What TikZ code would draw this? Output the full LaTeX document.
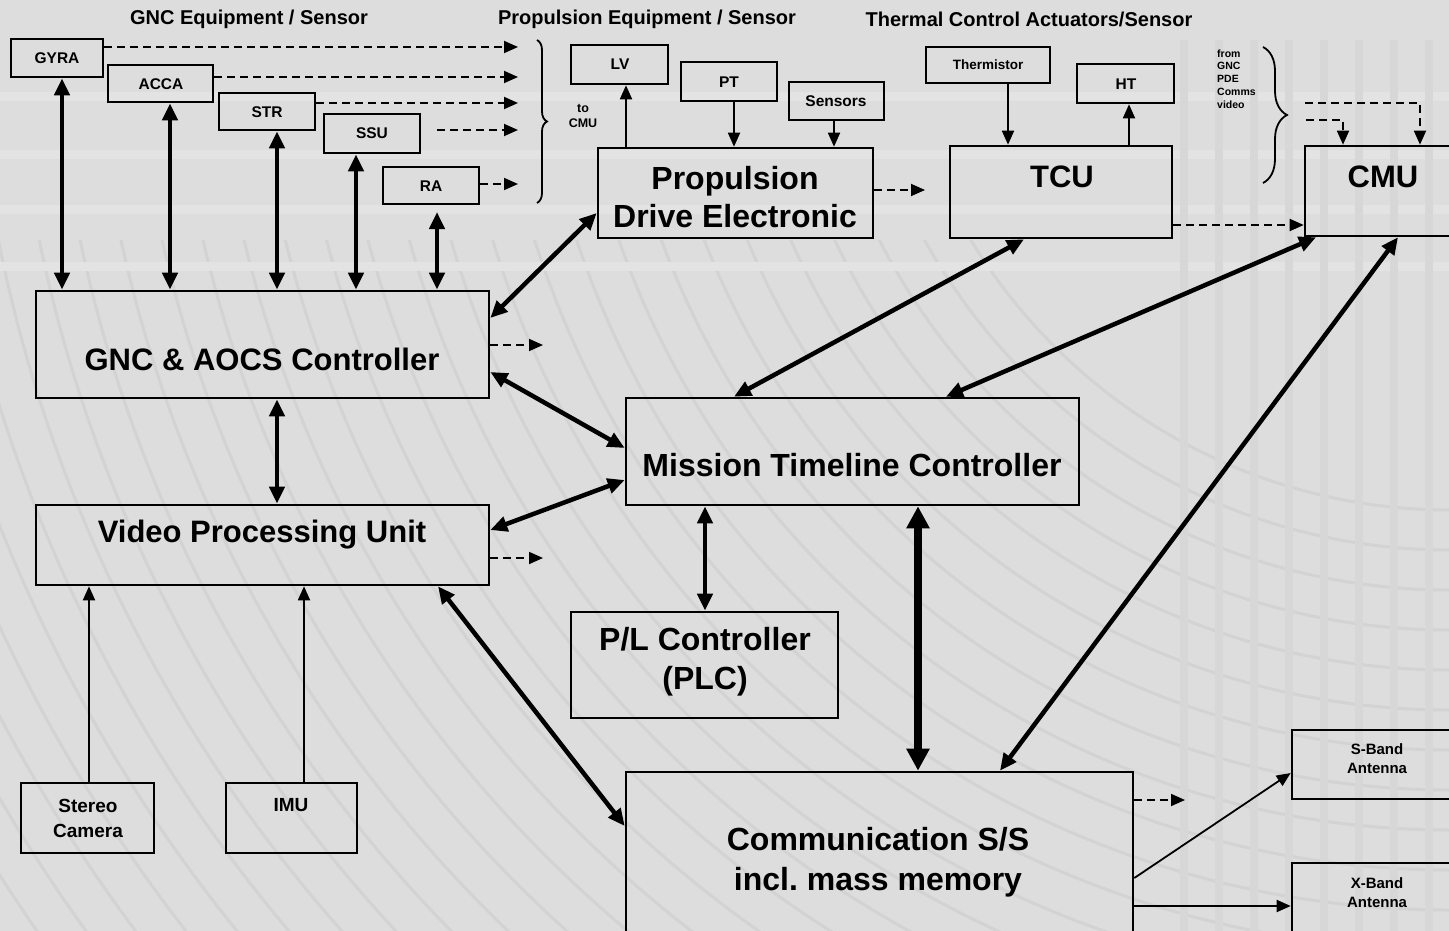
\documentclass[tikz,border=0pt]{standalone}
\usepackage{fontspec}
\setmainfont{Liberation Sans}
\usetikzlibrary{arrows.meta,decorations.pathreplacing,fit,calc}
\definecolor{bgc}{RGB}{221,221,221}
\definecolor{patc}{RGB}{211,211,211}
\definecolor{patv}{RGB}{215,215,215}
\definecolor{patl}{RGB}{227,227,227}
\begin{document}
\begin{tikzpicture}[x=1pt,y=-1pt,
  box/.style={draw=black, line width=2.6pt, inner sep=0pt},
  t/.style 2 args={inner sep=0pt, align=center, font=\bfseries\fontsize{#1}{#2}\selectfont},
  thk/.style={line width=4.5pt, >={Triangle[length=17pt,width=15pt]}, <->},
  vthk/.style={line width=8pt, >={Triangle[length=22pt,width=22pt]}, <->},
  thn/.style={line width=1.8pt, >={Triangle[length=14pt,width=12pt]}, ->},
  dsh/.style={line width=1.8pt, dash pattern=on 8pt off 5pt, >={Triangle[length=14pt,width=12pt]}, ->},
  brc/.style={line width=1.8pt, decorate, decoration={brace, amplitude=#1}},
  brc/.default=10pt]
\useasboundingbox (0,0) rectangle (1449,931);
\clip (0,0) rectangle (1449,931);
% background
\fill[bgc] (0,0) rectangle (1449,931);
\begin{scope}
  \clip (0,240) rectangle (1449,931);
  \foreach \r in {560,600,...,1720} \draw[patc, line width=3pt] (1450,-50) circle[radius=\r pt];
\end{scope}
\foreach \yy in {92,150,205,262} \fill[patl] (0,\yy) rectangle (1449,\yy+9);
\foreach \xx in {1180,1215,1250,1285,1320,1355,1390,1425} \fill[patv] (\xx,40) rectangle (\xx+8,931);

% titles
\node[t={20}{24}] (tgnc) at (249,19) {GNC Equipment / Sensor};
\node[t={20}{24}] (tprop) at (647,19) {Propulsion Equipment / Sensor};
\node[t={20}{24}] (ttherm) at (1029,19) {Thermal Control Actuators/Sensor};

% GNC equipment
\node[box, fit={(11,39) (103,77)}] (gyra) {};
\node[t={15.5}{18}] (gyrat) at (57,58) {GYRA};
\node[box, fit={(108,65) (213,102)}] (acca) {};
\node[t={15.5}{18}] (accat) at (161,84) {ACCA};
\node[box, fit={(219,93) (315,130)}] (str) {};
\node[t={15.5}{18}] (strt) at (267,112) {STR};
\node[box, fit={(324,114) (420,153)}] (ssu) {};
\node[t={15.5}{18}] (ssut) at (372,133) {SSU};
\node[box, fit={(383,167) (479,204)}] (ra) {};
\node[t={15.5}{18}] (rat) at (431,186) {RA};

\coordinate (e1) at (518,47);
\coordinate (e2) at (518,77);
\coordinate (e3) at (518,103);
\coordinate (s4) at (437,130);
\coordinate (e4) at (518,130);
\coordinate (e5) at (518,184);
\draw[dsh] (gyra.east |- e1) -- (e1);
\draw[dsh] (acca.east |- e2) -- (e2);
\draw[dsh] (str.east |- e3) -- (e3);
\draw[dsh] (s4) -- (e4);
\draw[dsh] (ra.east |- e5) -- (e5);
\coordinate (b1a) at (537,40);
\coordinate (b1b) at (537,203);
\draw[brc] (b1a) -- (b1b);
\node[t={12.5}{15.5}] (tocmu) at (583,116) {to\\CMU};

% GNC controller and VPU
\node[box, fit={(36,291) (489,398)}] (gnc) {};
\node[t={31}{36}] (gnct) at (262,359) {GNC \& AOCS Controller};
\node[box, fit={(36,505) (489,585)}] (vpu) {};
\node[t={31}{36}] (vput) at (262,535) {Video Processing Unit};

\coordinate (ra0) at (437,212);
\draw[thk] (62,0 |- gyra.south) -- (62,0 |- gnc.north);
\draw[thk] (170,0 |- acca.south) -- (170,0 |- gnc.north);
\draw[thk] (277,0 |- str.south) -- (277,0 |- gnc.north);
\draw[thk] (356,0 |- ssu.south) -- (356,0 |- gnc.north);
\draw[thk] (ra0) -- (ra0 |- gnc.north);
\draw[thk] (277,0 |- gnc.south) -- (277,0 |- vpu.north);

\coordinate (g1) at (543,345);
\coordinate (v1) at (543,558);
\draw[dsh] (gnc.east |- g1) -- (g1);
\draw[dsh] (vpu.east |- v1) -- (v1);

% camera / IMU
\node[box, fit={(21,783) (154,853)}] (stereo) {};
\node[t={19}{25}] (stereot) at (88,818) {Stereo\\Camera};
\node[box, fit={(226,783) (357,853)}] (imu) {};
\node[t={19}{25}] (imut) at (291,805) {IMU};
\draw[thn] (89,0 |- stereo.north) -- (89,0 |- vpu.south);
\draw[thn] (304,0 |- imu.north) -- (304,0 |- vpu.south);

% propulsion
\node[box, fit={(571,45) (668,84)}] (lv) {};
\node[t={15.5}{18}] (lvt) at (620,64) {LV};
\node[box, fit={(681,62) (777,101)}] (pt) {};
\node[t={15.5}{18}] (ptt) at (729,82) {PT};
\node[box, fit={(789,82) (884,120)}] (sens) {};
\node[t={15.5}{18}] (senst) at (836,101) {Sensors};
\node[box, fit={(598,148) (873,238)}] (pde) {};
\node[t={32}{38}] (pdet) at (735,197) {Propulsion\\Drive Electronic};
\draw[thn] (626,0 |- pde.north) -- (626,0 |- lv.south);
\draw[thn] (734,0 |- pt.south) -- (734,0 |- pde.north);
\draw[thn] (834,0 |- sens.south) -- (834,0 |- pde.north);
\coordinate (p1) at (925,190);
\draw[dsh] (pde.east |- p1) -- (p1);
\draw[thk] (gnc.east |- 0,318) -- (pde.west |- 0,213);

% thermal
\node[box, fit={(926,47) (1050,83)}] (therm) {};
\node[t={13.5}{16}] (thermt) at (988,65) {Thermistor};
\node[box, fit={(1077,64) (1174,103)}] (ht) {};
\node[t={15.5}{18}] (htt) at (1126,84) {HT};
\node[box, fit={(950,146) (1172,238)}] (tcu) {};
\node[t={31}{36}] (tcut) at (1062,177) {TCU};
\draw[thn] (1008,0 |- therm.south) -- (1008,0 |- tcu.north);
\draw[thn] (1129,0 |- tcu.north) -- (1129,0 |- ht.south);

% CMU
\node[box, fit={(1305,146) (1470,236)}] (cmu) {};
\node[t={31}{36}] (cmut) at (1383,177) {CMU};
\draw[dsh] (tcu.east |- 0,225) -- (cmu.west |- 0,225);
\node[t={10.5}{12.8}, align=left, anchor=west] (fromt) at (1217,79) {from\\GNC\\PDE\\Comms\\video};
\coordinate (b2a) at (1263,47);
\coordinate (b2b) at (1263,183);
\draw[brc=24pt] (b2a) -- (b2b);
\coordinate (c1) at (1305,103);
\coordinate (c2) at (1306,120);
\draw[dsh] (c1) -| (1420,0 |- cmu.north);
\draw[dsh] (c2) -| (1343,0 |- cmu.north);

% mission timeline controller
\node[box, fit={(626,398) (1079,505)}] (mtc) {};
\node[t={32}{38}] (mtct) at (852,465) {Mission Timeline Controller};
\draw[thk] (gnc.east |- 0,372) -- (mtc.west |- 0,448);
\draw[thk] (vpu.east |- 0,530) -- (mtc.west |- 0,480);
\draw[thk] (1024,0 |- tcu.south) -- (734,0 |- mtc.north);
\draw[thk] (1316,0 |- cmu.south) -- (946,0 |- mtc.north);

% PLC
\node[box, fit={(571,612) (838,718)}] (plc) {};
\node[t={32}{39}] (plct) at (705,662) {P/L Controller\\(PLC)};
\draw[thk] (705,0 |- mtc.south) -- (705,0 |- plc.north);

% communication
\node[box, fit={(626,772) (1133,950)}] (comm) {};
\node[t={32}{40}] (commt) at (878,862) {Communication S/S\\incl.\ mass memory};
\draw[vthk] (918,0 |- mtc.south) -- (918,0 |- comm.north);
\draw[thk] (1398,0 |- cmu.south) -- (1000,0 |- comm.north);
\draw[thk] (438,0 |- vpu.south) -- (comm.west |- 0,826);
\coordinate (m1) at (1185,800);
\draw[dsh] (comm.east |- m1) -- (m1);

% antennas
\node[box, fit={(1292,730) (1470,799)}] (sband) {};
\node[t={15}{19}] (sbandt) at (1377,759) {S-Band\\Antenna};
\node[box, fit={(1292,863) (1470,950)}] (xband) {};
\node[t={15}{19}] (xbandt) at (1377,893) {X-Band\\Antenna};
\draw[thn] (comm.east |- 0,878) -- (sband.west |- 0,773);
\draw[thn] (comm.east |- 0,906) -- (xband.west |- 0,906);
\end{tikzpicture}
\end{document}
